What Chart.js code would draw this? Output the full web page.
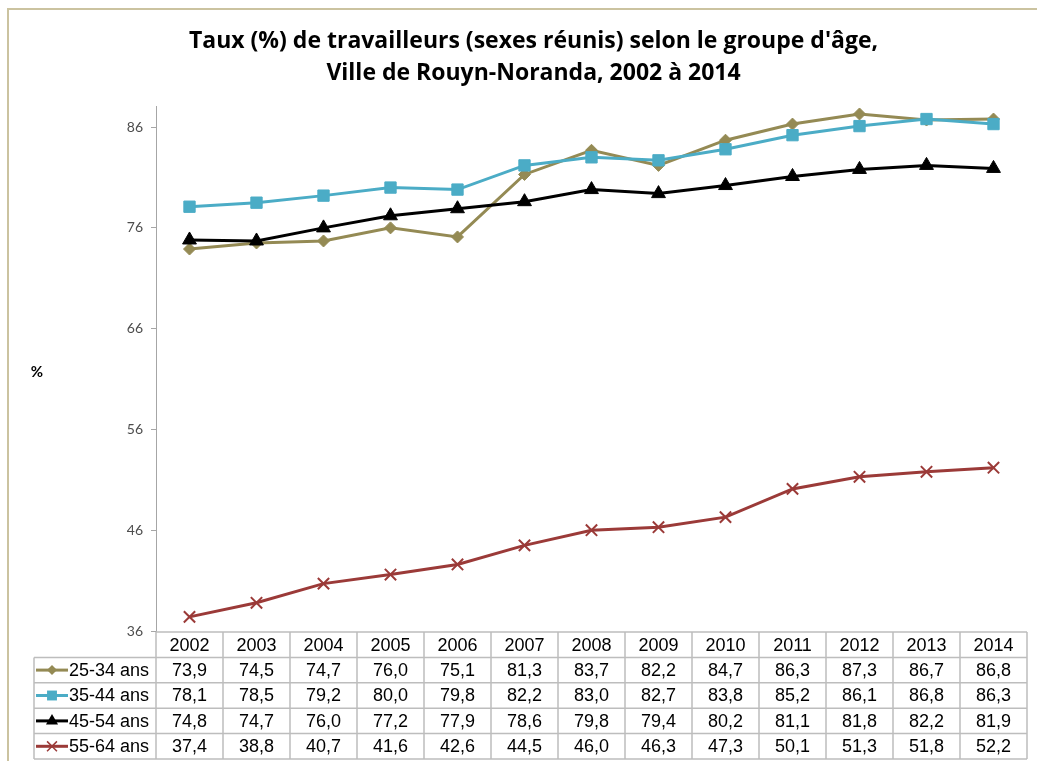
<!DOCTYPE html>
<html><head><meta charset="utf-8">
<script src="https://cdn.jsdelivr.net/npm/chart.js@4.4.1/dist/chart.umd.min.js"></script>
<style>html,body{margin:0;padding:0;background:#fff;}#wrap{width:1037px;height:761px;}</style>
</head><body><div id="wrap"><canvas id="c" width="1037" height="761"></canvas></div>
<script>
const years = ['2002','2003','2004','2005','2006','2007','2008','2009','2010','2011','2012','2013','2014'];
const seriesNames = ['25-34 ans','35-44 ans','45-54 ans','55-64 ans'];
const s2534 = [73.9,74.5,74.7,76.0,75.1,81.3,83.7,82.2,84.7,86.3,87.3,86.7,86.8];
const s3544 = [78.1,78.5,79.2,80.0,79.8,82.2,83.0,82.7,83.8,85.2,86.1,86.8,86.3];
const s4554 = [74.8,74.7,76.0,77.2,77.9,78.6,79.8,79.4,80.2,81.1,81.8,82.2,81.9];
const s5564 = [37.4,38.8,40.7,41.6,42.6,44.5,46.0,46.3,47.3,50.1,51.3,51.8,52.2];
const yTicks = [36,46,56,66,76,86];
const titleLines = ["Taux (%) de travailleurs (sexes réunis) selon le groupe d'âge,", "Ville de Rouyn-Noranda, 2002 à 2014"];
const yTitle = '%';

const styles = [
  {color:'#948a54', point:'rectRot', radius:6, bw:1},
  {color:'#4bacc6', point:'rect', radius:8, bw:1},
  {color:'#000000', point:'triangle', radius:8, bw:1},
  {color:'#9b3a38', point:'crossRot', radius:8, bw:2}
];
const allSeries = [s2534, s3544, s4554, s5564];

function drawMarker(ctx, style, x, y, r) {
  ctx.save();
  ctx.fillStyle = style.color; ctx.strokeStyle = style.color;
  ctx.beginPath();
  if (style.point === 'rectRot') {
    ctx.moveTo(x, y - r); ctx.lineTo(x + r, y); ctx.lineTo(x, y + r); ctx.lineTo(x - r, y); ctx.closePath(); ctx.fill();
  } else if (style.point === 'rect') {
    const s = r * Math.SQRT1_2; ctx.rect(x - s, y - s, 2 * s, 2 * s); ctx.fill();
  } else if (style.point === 'triangle') {
    ctx.moveTo(x, y - r); ctx.lineTo(x + r * 0.866, y + r * 0.5); ctx.lineTo(x - r * 0.866, y + r * 0.5); ctx.closePath(); ctx.fill();
  } else {
    const s = r * Math.SQRT1_2; ctx.lineWidth = 1.5;
    ctx.moveTo(x - s, y - s); ctx.lineTo(x + s, y + s); ctx.moveTo(x + s, y - s); ctx.lineTo(x - s, y + s); ctx.stroke();
  }
  ctx.restore();
}

const extras = {
  id: 'extras',
  afterDraw(chart) {
    const ctx = chart.ctx, ca = chart.chartArea, xs = chart.scales.x;
    const colW = xs.getPixelForValue(1) - xs.getPixelForValue(0);
    const left = ca.left, right = ca.right;
    const top = ca.bottom + 1, rowH = 25.4, legL = 34;
    ctx.save();
    // frame
    ctx.strokeStyle = '#cbc3a0'; ctx.lineWidth = 2;
    ctx.beginPath(); ctx.moveTo(8, 761); ctx.lineTo(8, 9); ctx.lineTo(1037, 9); ctx.stroke();
    // y title
    ctx.fillStyle = '#000'; ctx.font = 'bold 15px Lato'; ctx.textAlign = 'center'; ctx.textBaseline = 'middle';
    ctx.fillText(yTitle, 37, (ca.top + ca.bottom) / 2 + 3);
    // table grid
    ctx.strokeStyle = '#bdbdbd'; ctx.lineWidth = 1.5;
    ctx.beginPath();
    ctx.moveTo(left, top); ctx.lineTo(right, top);
    for (let r = 1; r <= 5; r++) { ctx.moveTo(legL, top + r * rowH); ctx.lineTo(right, top + r * rowH); }
    for (let i = 0; i <= years.length; i++) {
      const x = xs.getPixelForValue(0) - colW / 2 + i * colW;
      ctx.moveTo(x, top); ctx.lineTo(x, top + 5 * rowH);
    }
    ctx.moveTo(legL, top + rowH); ctx.lineTo(legL, top + 5 * rowH);
    ctx.stroke();
    // text
    ctx.fillStyle = '#000'; ctx.font = '18px "Liberation Sans", Arial'; ctx.textAlign = 'center'; ctx.textBaseline = 'middle';
    years.forEach((y, i) => ctx.fillText(y, xs.getPixelForValue(i), top + rowH / 2 + 1));
    allSeries.forEach((arr, r) => {
      const cy = top + (r + 1) * rowH + rowH / 2 + 1;
      arr.forEach((v, i) => ctx.fillText(v.toFixed(1).replace('.', ','), xs.getPixelForValue(i), cy));
    });
    // legend keys
    allSeries.forEach((arr, r) => {
      const st = styles[r];
      const cy = top + (r + 1) * rowH + rowH / 2;
      ctx.strokeStyle = st.color; ctx.lineWidth = 3;
      ctx.beginPath(); ctx.moveTo(36, cy); ctx.lineTo(68, cy); ctx.stroke();
      drawMarker(ctx, st, 52, cy, st.point === 'rect' ? 7 : (st.point === 'rectRot' ? 5 : 7));
      ctx.fillStyle = '#000'; ctx.textAlign = 'left';
      ctx.fillText(seriesNames[r], 69, cy + 1);
    });
    ctx.restore();
  }
};

new Chart(document.getElementById('c'), {
  type: 'line',
  data: {
    labels: years,
    datasets: allSeries.map((arr, i) => ({
      label: seriesNames[i], data: arr,
      borderColor: styles[i].color, backgroundColor: styles[i].color,
      pointBackgroundColor: styles[i].color, pointBorderColor: styles[i].color,
      pointStyle: styles[i].point, pointRadius: styles[i].radius, pointBorderWidth: styles[i].bw,
      borderWidth: 3, tension: 0, fill: false, order: 4 - i
    }))
  },
  options: {
    responsive: false, animation: false, devicePixelRatio: 1,
    layout: { padding: { left: 34, right: 4, top: 0, bottom: 130 } },
    plugins: {
      legend: { display: false }, tooltip: { enabled: false },
      title: { display: true, text: titleLines, color: '#000',
        font: { family: '"Open Sans"', size: 23, weight: 'bold', lineHeight: 1.39 },
        padding: { top: 25.6, bottom: 17.4 } }
    },
    scales: {
      x: { type: 'category', offset: true, display: false },
      y: { min: 36, max: 88,
        afterBuildTicks: s => { s.ticks = yTicks.map(v => ({ value: v })); },
        afterFit: s => { s.width = 122; },
        grid: { drawOnChartArea: false, drawTicks: true, tickLength: 5, color: '#a6a6a6' },
        border: { color: '#a6a6a6', width: 1 },
        ticks: { padding: 8, color: '#4d4d4d', font: { family: 'Lato', size: 14 } } }
    }
  },
  plugins: [extras]
});
</script></body></html>
